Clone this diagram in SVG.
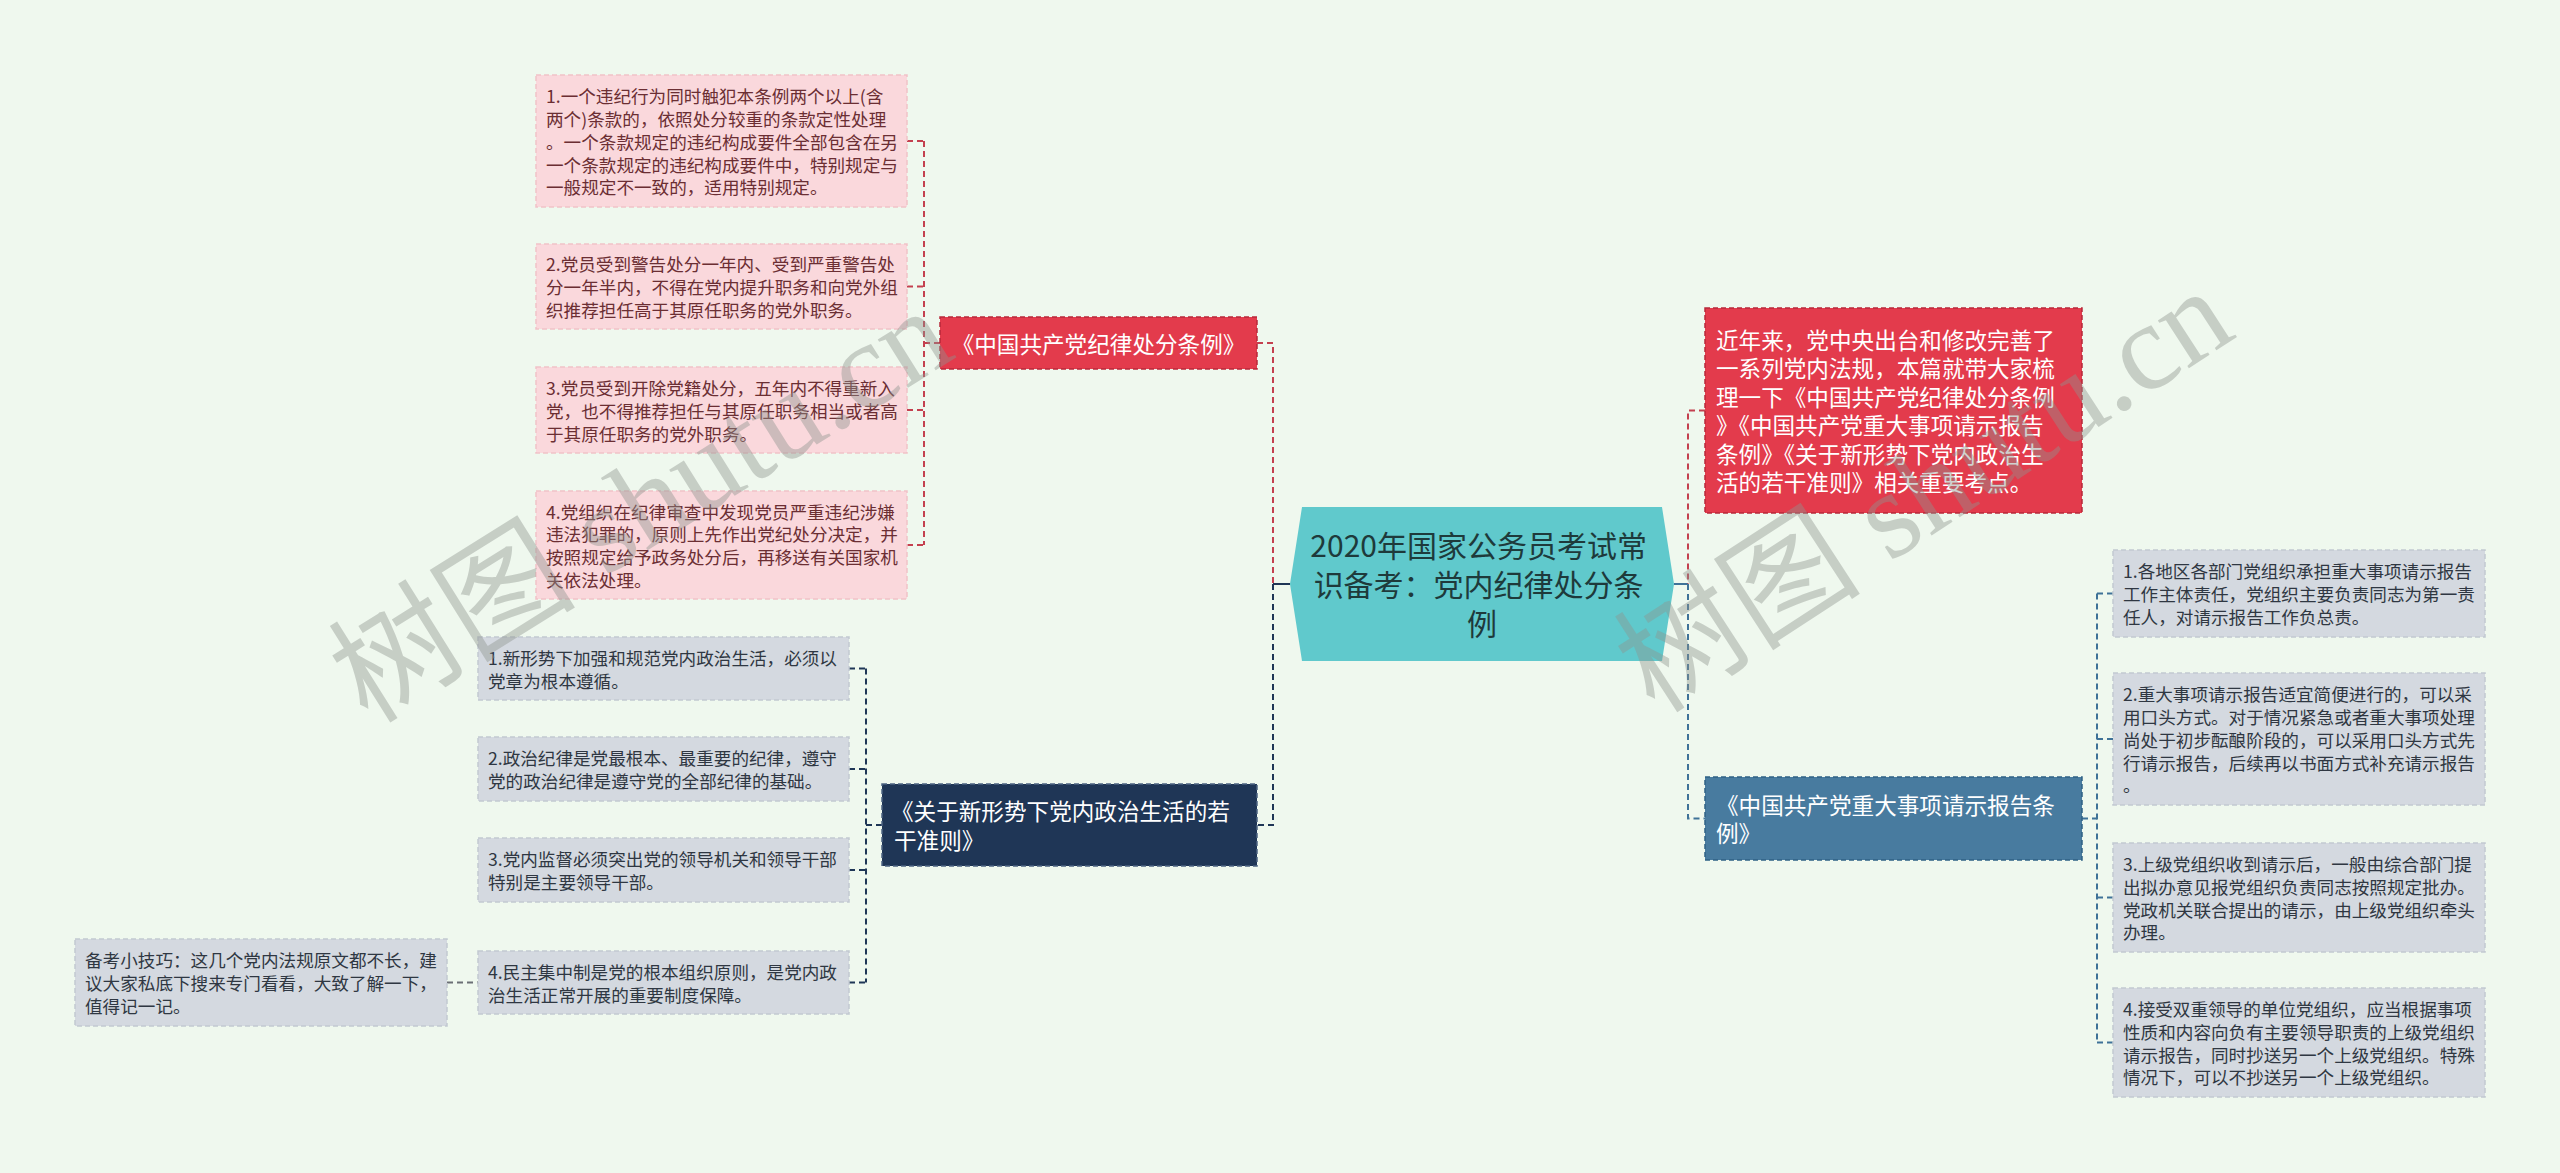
<svg xmlns="http://www.w3.org/2000/svg" width="2560" height="1173" viewBox="0 0 2560 1173">
<defs>
<style>
.s{font-family:"Noto Sans CJK SC","Liberation Sans",sans-serif;font-size:17.6px}
.b{font-family:"Noto Sans CJK SC","Liberation Sans",sans-serif;font-size:22.6px;fill:#ffffff}
.tpk{fill:#6b2e33}
.tgy{fill:#2f3742}
.pk{fill:#fad8dc;stroke:#f1c2c8;stroke-width:1.5;stroke-dasharray:5 3}
.gy{fill:#d4d9e0;stroke:#c2c9d1;stroke-width:1.5;stroke-dasharray:5 3}
.red{fill:#e33b4c;stroke:#b8283a;stroke-width:1.5;stroke-dasharray:5 3}
.navy{fill:#1f3656;stroke:#4d6483;stroke-width:1.5;stroke-dasharray:5 3}
.blue{fill:#487b9f;stroke:#2f6185;stroke-width:1.5;stroke-dasharray:5 3}
.c{fill:none;stroke-width:2;stroke-dasharray:6 4}
.cr{stroke:#c4404f}
.cn{stroke:#1f3656}
.cb{stroke:#3f7298}
.cg{stroke:#6b6f75}
.wm{font-family:"Liberation Serif","Noto Sans CJK SC",serif;font-size:124px;fill:#8f958f;opacity:0.42}
</style>
</defs>
<rect x="0" y="0" width="2560" height="1173" fill="#eff8ee"/>

<g id="connectors">
  <line x1="1273" y1="584" x2="1290" y2="584" stroke="#1f3656" stroke-width="2"/>
  <polyline class="c cr" points="1257,343 1273,343 1273,584"/>
  <polyline class="c cn" points="1273,584 1273,825 1257,825"/>
  <line x1="1674" y1="584" x2="1688" y2="584" stroke="#3f7298" stroke-width="2"/>
  <polyline class="c cr" points="1705,410.5 1688,410.5 1688,584"/>
  <polyline class="c cb" points="1688,584 1688,818.5 1705,818.5"/>
  <line class="c cr" x1="924" y1="343" x2="940" y2="343"/>
  <line class="c cr" x1="924" y1="141" x2="924" y2="545"/>
  <line class="c cr" x1="907" y1="141" x2="924" y2="141"/>
  <line class="c cr" x1="907" y1="286.5" x2="924" y2="286.5"/>
  <line class="c cr" x1="907" y1="410" x2="924" y2="410"/>
  <line class="c cr" x1="907" y1="545" x2="924" y2="545"/>
  <line class="c cn" x1="866" y1="825" x2="882" y2="825"/>
  <line class="c cn" x1="866" y1="668.5" x2="866" y2="982.5"/>
  <line class="c cn" x1="849" y1="668.5" x2="866" y2="668.5"/>
  <line class="c cn" x1="849" y1="769" x2="866" y2="769"/>
  <line class="c cn" x1="849" y1="870" x2="866" y2="870"/>
  <line class="c cn" x1="849" y1="982.5" x2="866" y2="982.5"/>
  <line class="c cg" x1="447" y1="982.5" x2="478" y2="982.5"/>
  <line class="c cb" x1="2082" y1="818.5" x2="2097" y2="818.5"/>
  <line class="c cb" x1="2097" y1="593.5" x2="2097" y2="1042.5"/>
  <line class="c cb" x1="2097" y1="593.5" x2="2113" y2="593.5"/>
  <line class="c cb" x1="2097" y1="739" x2="2113" y2="739"/>
  <line class="c cb" x1="2097" y1="897.5" x2="2113" y2="897.5"/>
  <line class="c cb" x1="2097" y1="1042.5" x2="2113" y2="1042.5"/>
</g>

<g id="center">
  <polygon points="1302,507 1662,507 1674,584 1662,661 1302,661 1290,584" fill="#60c9cc"/>
  <text font-family="Noto Sans CJK SC, Liberation Sans, sans-serif" font-size="30" fill="#1e3a3b" text-anchor="middle">
    <tspan x="1482" y="557">2020年国家公务员考试常</tspan>
    <tspan x="1482" y="596">识备考：党内纪律处分条</tspan>
    <tspan x="1482" y="635">例</tspan>
  </text>
</g>

<g id="n-jilv">
  <rect class="red" x="940" y="317" width="317" height="52"/>
  <text class="b" x="1098.5" y="352.6" text-anchor="middle">《中国共产党纪律处分条例》</text>
</g>

<g id="n-p1">
  <rect class="pk" x="536" y="75" width="371" height="132"/>
  <text class="s tpk">
    <tspan x="546" y="103.1">1.一个违纪行为同时触犯本条例两个以上(含</tspan>
    <tspan x="546" y="125.9">两个)条款的，依照处分较重的条款定性处理</tspan>
    <tspan x="546" y="148.7">。一个条款规定的违纪构成要件全部包含在另</tspan>
    <tspan x="546" y="171.5">一个条款规定的违纪构成要件中，特别规定与</tspan>
    <tspan x="546" y="194.3">一般规定不一致的，适用特别规定。</tspan>
  </text>
</g>

<g id="n-p2">
  <rect class="pk" x="536" y="244" width="371" height="85"/>
  <text class="s tpk">
    <tspan x="546" y="271.4">2.党员受到警告处分一年内、受到严重警告处</tspan>
    <tspan x="546" y="294.2">分一年半内，不得在党内提升职务和向党外组</tspan>
    <tspan x="546" y="317">织推荐担任高于其原任职务的党外职务。</tspan>
  </text>
</g>

<g id="n-p3">
  <rect class="pk" x="536" y="367" width="371" height="86"/>
  <text class="s tpk">
    <tspan x="546" y="394.9">3.党员受到开除党籍处分，五年内不得重新入</tspan>
    <tspan x="546" y="417.7">党，也不得推荐担任与其原任职务相当或者高</tspan>
    <tspan x="546" y="440.5">于其原任职务的党外职务。</tspan>
  </text>
</g>

<g id="n-p4">
  <rect class="pk" x="536" y="491" width="371" height="108"/>
  <text class="s tpk">
    <tspan x="546" y="518.5">4.党组织在纪律审查中发现党员严重违纪涉嫌</tspan>
    <tspan x="546" y="541.3">违法犯罪的，原则上先作出党纪处分决定，并</tspan>
    <tspan x="546" y="564.1">按照规定给予政务处分后，再移送有关国家机</tspan>
    <tspan x="546" y="586.9">关依法处理。</tspan>
  </text>
</g>

<g id="n-zhunze">
  <rect class="navy" x="882" y="784" width="375" height="82"/>
  <text class="b">
    <tspan x="891" y="820.4">《关于新形势下党内政治生活的若</tspan>
    <tspan x="894" y="848.9">干准则》</tspan>
  </text>
</g>

<g id="n-g1">
  <rect class="gy" x="478" y="637" width="371" height="63"/>
  <text class="s tgy">
    <tspan x="488" y="664.8">1.新形势下加强和规范党内政治生活，必须以</tspan>
    <tspan x="488" y="687.6">党章为根本遵循。</tspan>
  </text>
</g>

<g id="n-g2">
  <rect class="gy" x="478" y="737" width="371" height="64"/>
  <text class="s tgy">
    <tspan x="488" y="765.3">2.政治纪律是党最根本、最重要的纪律，遵守</tspan>
    <tspan x="488" y="788.1">党的政治纪律是遵守党的全部纪律的基础。</tspan>
  </text>
</g>

<g id="n-g3">
  <rect class="gy" x="478" y="838" width="371" height="64"/>
  <text class="s tgy">
    <tspan x="488" y="866.3">3.党内监督必须突出党的领导机关和领导干部</tspan>
    <tspan x="488" y="889.1">特别是主要领导干部。</tspan>
  </text>
</g>

<g id="n-g4">
  <rect class="gy" x="478" y="951" width="371" height="63"/>
  <text class="s tgy">
    <tspan x="488" y="978.8">4.民主集中制是党的根本组织原则，是党内政</tspan>
    <tspan x="488" y="1001.6">治生活正常开展的重要制度保障。</tspan>
  </text>
</g>

<g id="n-note">
  <rect class="gy" x="75" y="939" width="372" height="87"/>
  <text class="s tgy">
    <tspan x="85" y="967.4">备考小技巧：这几个党内法规原文都不长，建</tspan>
    <tspan x="85" y="990.2">议大家私底下搜来专门看看，大致了解一下，</tspan>
    <tspan x="85" y="1013">值得记一记。</tspan>
  </text>
</g>

<g id="n-intro">
  <rect class="red" x="1705" y="308" width="377" height="205"/>
  <text class="b">
    <tspan x="1716" y="348.9">近年来，党中央出台和修改完善了</tspan>
    <tspan x="1716" y="377.4">一系列党内法规，本篇就带大家梳</tspan>
    <tspan x="1716" y="405.9">理一下《中国共产党纪律处分条例</tspan>
    <tspan x="1716" y="434.4">》《中国共产党重大事项请示报告</tspan>
    <tspan x="1716" y="462.9">条例》《关于新形势下党内政治生</tspan>
    <tspan x="1716" y="491.4">活的若干准则》相关重要考点。</tspan>
  </text>
</g>

<g id="n-qingshi">
  <rect class="blue" x="1705" y="777" width="377" height="83"/>
  <text class="b">
    <tspan x="1716" y="813.9">《中国共产党重大事项请示报告条</tspan>
    <tspan x="1716" y="842.4">例》</tspan>
  </text>
</g>

<g id="n-r1">
  <rect class="gy" x="2113" y="550" width="372" height="87"/>
  <text class="s tgy">
    <tspan x="2123" y="578.4">1.各地区各部门党组织承担重大事项请示报告</tspan>
    <tspan x="2123" y="601.2">工作主体责任，党组织主要负责同志为第一责</tspan>
    <tspan x="2123" y="624">任人，对请示报告工作负总责。</tspan>
  </text>
</g>

<g id="n-r2">
  <rect class="gy" x="2113" y="673" width="372" height="132"/>
  <text class="s tgy">
    <tspan x="2123" y="701.1">2.重大事项请示报告适宜简便进行的，可以采</tspan>
    <tspan x="2123" y="723.9">用口头方式。对于情况紧急或者重大事项处理</tspan>
    <tspan x="2123" y="746.7">尚处于初步酝酿阶段的，可以采用口头方式先</tspan>
    <tspan x="2123" y="769.5">行请示报告，后续再以书面方式补充请示报告</tspan>
    <tspan x="2123" y="792.3">。</tspan>
  </text>
</g>

<g id="n-r3">
  <rect class="gy" x="2113" y="843" width="372" height="109"/>
  <text class="s tgy">
    <tspan x="2123" y="871">3.上级党组织收到请示后，一般由综合部门提</tspan>
    <tspan x="2123" y="893.8">出拟办意见报党组织负责同志按照规定批办。</tspan>
    <tspan x="2123" y="916.6">党政机关联合提出的请示，由上级党组织牵头</tspan>
    <tspan x="2123" y="939.4">办理。</tspan>
  </text>
</g>

<g id="n-r4">
  <rect class="gy" x="2113" y="988" width="372" height="109"/>
  <text class="s tgy">
    <tspan x="2123" y="1016">4.接受双重领导的单位党组织，应当根据事项</tspan>
    <tspan x="2123" y="1038.8">性质和内容向负有主要领导职责的上级党组织</tspan>
    <tspan x="2123" y="1061.6">请示报告，同时抄送另一个上级党组织。特殊</tspan>
    <tspan x="2123" y="1084.4">情况下，可以不抄送另一个上级党组织。</tspan>
  </text>
</g>

<g id="watermarks">
  <text class="wm" x="368" y="725" transform="rotate(-32 368 725)">树图 shutu.cn</text>
  <text class="wm" x="1655" y="715" transform="rotate(-33 1655 715)">树图 shutu.cn</text>
</g>
</svg>
